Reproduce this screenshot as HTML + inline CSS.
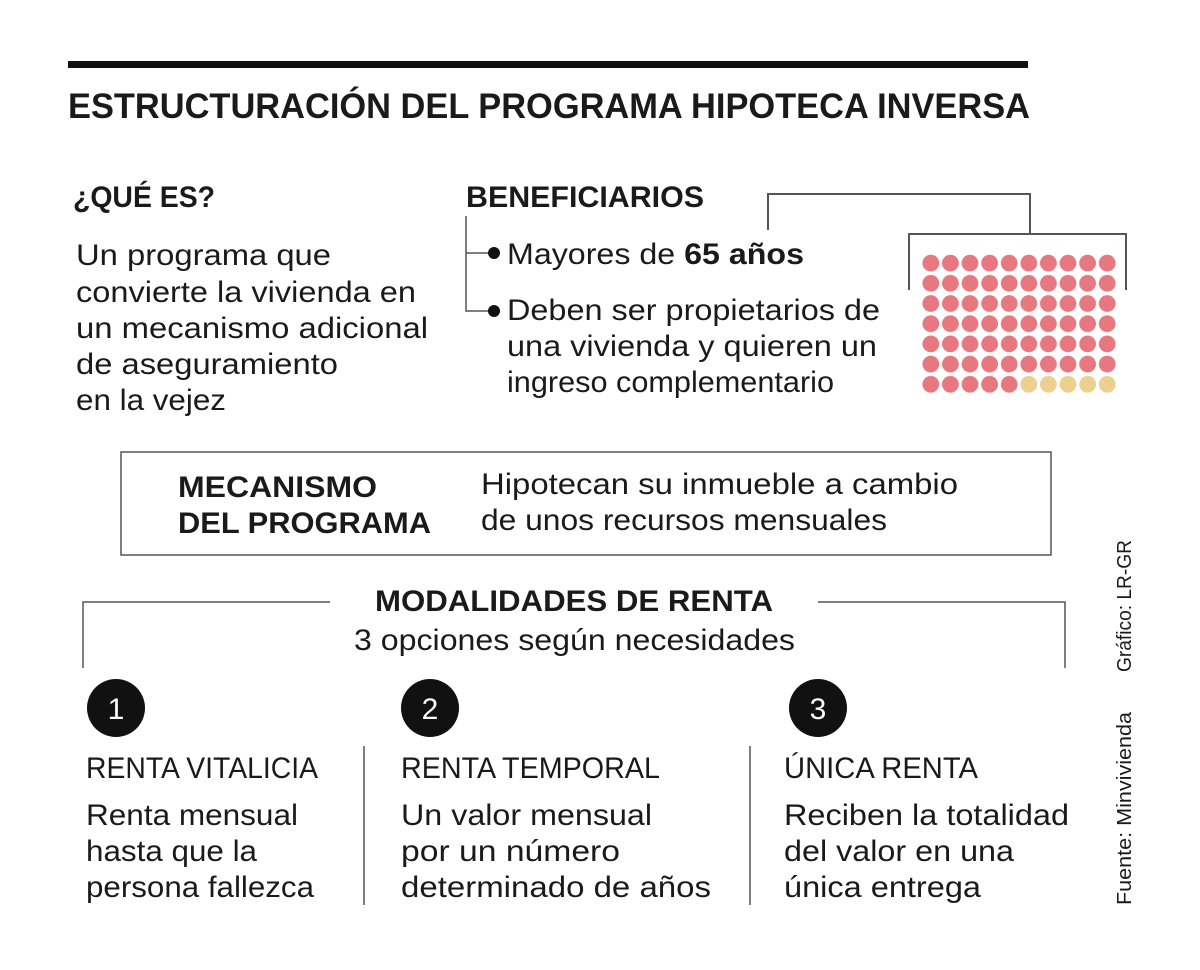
<!DOCTYPE html>
<html><head><meta charset="utf-8"><style>
html,body{margin:0;padding:0;background:#fff;}
svg{display:block;}
text{font-family:"Liberation Sans",sans-serif;fill:#1a1a1a;}
.b{font-weight:bold;}
.l{font-size:30px;}
</style></head><body>
<svg width="1200" height="970" viewBox="0 0 1200 970" xmlns="http://www.w3.org/2000/svg">
<defs>
<pattern id="pk" x="921" y="253" width="19.6" height="20.2" patternUnits="userSpaceOnUse"><circle cx="9.8" cy="10.1" r="8.4" fill="#e8787f"/></pattern>
<pattern id="yl" x="921" y="253" width="19.6" height="20.2" patternUnits="userSpaceOnUse"><circle cx="9.8" cy="10.1" r="8.4" fill="#ebd08f"/></pattern>
</defs>
<rect x="68" y="61" width="960" height="7" fill="#111"/>
<text class="b" x="68" y="118" font-size="35" textLength="962" lengthAdjust="spacingAndGlyphs">ESTRUCTURACIÓN DEL PROGRAMA HIPOTECA INVERSA</text>

<text class="b" x="73" y="207" font-size="30" textLength="142" lengthAdjust="spacingAndGlyphs">¿QUÉ ES?</text>
<g class="l">
<text x="76" y="265" textLength="255" lengthAdjust="spacingAndGlyphs">Un programa que</text>
<text x="76" y="302" textLength="340" lengthAdjust="spacingAndGlyphs">convierte la vivienda en</text>
<text x="76" y="338" textLength="352" lengthAdjust="spacingAndGlyphs">un mecanismo adicional</text>
<text x="76" y="374" textLength="262" lengthAdjust="spacingAndGlyphs">de aseguramiento</text>
<text x="76" y="410" textLength="150" lengthAdjust="spacingAndGlyphs">en la vejez</text>
</g>

<text class="b" x="466" y="207" font-size="30" textLength="238" lengthAdjust="spacingAndGlyphs">BENEFICIARIOS</text>
<path d="M466 216V311H493M466 253H493" fill="none" stroke="#555" stroke-width="1.5"/>
<circle cx="494" cy="253" r="6" fill="#111"/>
<circle cx="494" cy="311" r="6" fill="#111"/>
<text x="507" y="264" font-size="30" textLength="297" lengthAdjust="spacingAndGlyphs">Mayores de <tspan class="b">65 años</tspan></text>
<g class="l">
<text x="507" y="320" textLength="373" lengthAdjust="spacingAndGlyphs">Deben ser propietarios de</text>
<text x="507" y="356" textLength="370" lengthAdjust="spacingAndGlyphs">una vivienda y quieren un</text>
<text x="507" y="392" textLength="327" lengthAdjust="spacingAndGlyphs">ingreso complementario</text>
</g>
<path d="M768 230V194H1030V234M909 290V234H1126V290" fill="none" stroke="#555" stroke-width="2"/>
<rect x="921" y="253" width="196" height="121.2" fill="url(#pk)"/>
<rect x="921" y="374.2" width="98" height="20.2" fill="url(#pk)"/>
<rect x="1019" y="374.2" width="98" height="20.2" fill="url(#yl)"/>

<rect x="121" y="452" width="930" height="103" fill="none" stroke="#555" stroke-width="1.5"/>
<text class="b" x="178" y="497" font-size="30" textLength="199" lengthAdjust="spacingAndGlyphs">MECANISMO</text>
<text class="b" x="178" y="533" font-size="30" textLength="253" lengthAdjust="spacingAndGlyphs">DEL PROGRAMA</text>
<text class="l" x="481" y="494" textLength="477" lengthAdjust="spacingAndGlyphs">Hipotecan su inmueble a cambio</text>
<text class="l" x="481" y="530" textLength="406" lengthAdjust="spacingAndGlyphs">de unos recursos mensuales</text>

<path d="M83 668V602H330M818 602H1065V668" fill="none" stroke="#555" stroke-width="1.5"/>
<text class="b" x="375" y="611" font-size="30" textLength="398" lengthAdjust="spacingAndGlyphs">MODALIDADES DE RENTA</text>
<text class="l" x="354" y="650" textLength="441" lengthAdjust="spacingAndGlyphs">3 opciones según necesidades</text>

<circle cx="116" cy="708" r="29" fill="#111"/>
<circle cx="430" cy="708" r="29" fill="#111"/>
<circle cx="818" cy="708" r="29" fill="#111"/>
<text x="116" y="719" font-size="30" text-anchor="middle" style="fill:#fff">1</text>
<text x="430" y="719" font-size="30" text-anchor="middle" style="fill:#fff">2</text>
<text x="818" y="719" font-size="30" text-anchor="middle" style="fill:#fff">3</text>

<path d="M364 746V905M750 746V905" stroke="#555" stroke-width="1.5"/>
<g class="l">
<text x="86" y="778" textLength="232" lengthAdjust="spacingAndGlyphs">RENTA VITALICIA</text>
<text x="401" y="778" textLength="259" lengthAdjust="spacingAndGlyphs">RENTA TEMPORAL</text>
<text x="784" y="778" textLength="194" lengthAdjust="spacingAndGlyphs">ÚNICA RENTA</text>
<text x="86" y="825" textLength="212" lengthAdjust="spacingAndGlyphs">Renta mensual</text>
<text x="86" y="861" textLength="171" lengthAdjust="spacingAndGlyphs">hasta que la</text>
<text x="86" y="897" textLength="228" lengthAdjust="spacingAndGlyphs">persona fallezca</text>
<text x="401" y="825" textLength="251" lengthAdjust="spacingAndGlyphs">Un valor mensual</text>
<text x="401" y="861" textLength="219" lengthAdjust="spacingAndGlyphs">por un número</text>
<text x="401" y="897" textLength="310" lengthAdjust="spacingAndGlyphs">determinado de años</text>
<text x="784" y="825" textLength="285" lengthAdjust="spacingAndGlyphs">Reciben la totalidad</text>
<text x="784" y="861" textLength="230" lengthAdjust="spacingAndGlyphs">del valor en una</text>
<text x="784" y="897" textLength="197" lengthAdjust="spacingAndGlyphs">única entrega</text>
</g>
<text x="0" y="0" font-size="20" transform="translate(1131,672) rotate(-90)" textLength="132" lengthAdjust="spacingAndGlyphs">Gráfico: LR-GR</text>
<text x="0" y="0" font-size="20" transform="translate(1131,905) rotate(-90)" textLength="193" lengthAdjust="spacingAndGlyphs">Fuente: Minvivienda</text>
</svg>
</body></html>
